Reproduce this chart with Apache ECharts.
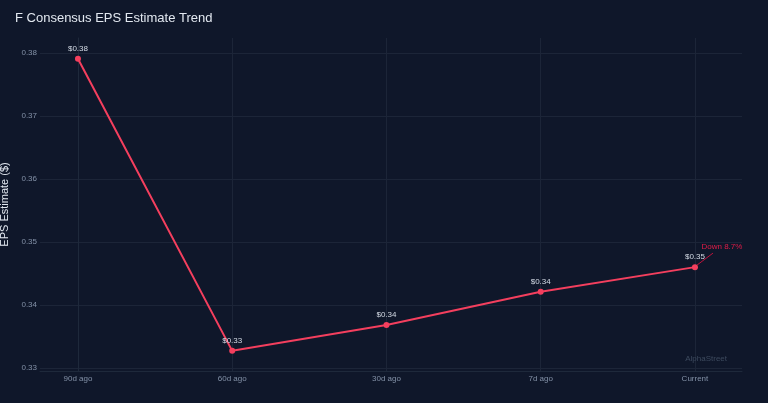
<!DOCTYPE html>
<html>
<head>
<meta charset="utf-8">
<script src="https://cdn.jsdelivr.net/npm/echarts@6/dist/echarts.min.js"></script>
<style>
html,body{margin:0;padding:0;background:#0f172a;}
#c{width:768px;height:403px;}
</style>
</head>
<body>
<div id="c"></div>
<script>
const categories = ['90d ago', '60d ago', '30d ago', '7d ago', 'Current'];
const epsValues = [0.3791, 0.3327, 0.3368, 0.3421, 0.3460];
const yTicks = [0.33, 0.34, 0.35, 0.36, 0.37, 0.38];
const titleText = 'F Consensus EPS Estimate Trend';
const watermark = 'AlphaStreet';

const xIdx = categories.map((c, i) => i);
const pct = (epsValues[epsValues.length - 1] - epsValues[0]) / epsValues[0] * 100;
const annText = (pct < 0 ? 'Down ' : 'Up ') + Math.abs(pct).toFixed(1) + '%';

const chart = echarts.init(document.getElementById('c'), null, {renderer: 'canvas'});
const font = 'Liberation Sans, Arial, sans-serif';
chart.setOption({
  backgroundColor: '#0f172a',
  animation: false,
  title: {
    text: titleText, left: 10, top: 7,
    textStyle: {color: '#e2e8f0', fontSize: 13, fontWeight: 'normal', fontFamily: font}
  },
  grid: {left: 40, right: 26, top: 38, bottom: 32, containLabel: false, outerBoundsMode: 'none'},
  xAxis: {
    type: 'value', min: -0.246, max: 4.305,
    axisLine: {show: true, onZero: false, lineStyle: {color: '#1e293b'}},
    axisTick: {show: false, customValues: xIdx},
    axisLabel: {
      customValues: xIdx, color: '#8391a7', fontSize: 8, fontFamily: font, margin: 4,
      formatter: v => categories[Math.round(v)] || ''
    },
    splitLine: {show: true, lineStyle: {color: '#1c2538', width: 1}}
  },
  yAxis: {
    type: 'value', min: 0.3295, max: 0.3824,
    name: 'EPS Estimate ($)', nameLocation: 'middle', nameGap: 25,
    nameTextStyle: {color: '#e2e8f0', fontSize: 11, fontFamily: font},
    axisLine: {show: true, lineStyle: {color: '#1e293b'}},
    axisTick: {show: false, customValues: yTicks},
    axisLabel: {
      customValues: yTicks, color: '#8391a7', fontSize: 8, fontFamily: font, margin: 3,
      formatter: v => v.toFixed(2)
    },
    splitLine: {show: true, lineStyle: {color: '#1c2538', width: 1}}
  },
  series: [{
    type: 'line',
    data: xIdx.map((x, i) => [x, epsValues[i]]),
    symbol: 'circle', symbolSize: 6,
    lineStyle: {color: '#f43f5e', width: 2},
    itemStyle: {color: '#f43f5e'},
    label: {
      show: true, position: 'top', distance: 3,
      color: '#d4dbe5', fontSize: 8, fontFamily: font,
      formatter: p => '$' + p.value[1].toFixed(2)
    }
  }]
});

// annotation near the last point, anchored via the library's scale
const last = chart.convertToPixel({seriesIndex: 0}, [xIdx[xIdx.length - 1], epsValues[epsValues.length - 1]]);
chart.setOption({
  graphic: [{
    type: 'text', right: 41, bottom: 40,
    style: {text: watermark, fill: '#3d4a5e', fontSize: 8, fontFamily: font}
  }, {
    type: 'line',
    shape: {x1: last[0] + 2, y1: last[1] - 2, x2: last[0] + 18, y2: last[1] - 14},
    style: {stroke: '#be123c', lineWidth: 1}
  }, {
    type: 'text', x: last[0] + 27, y: last[1] - 20,
    style: {text: annText, fill: '#e11d48', fontSize: 8, fontFamily: font, align: 'center', verticalAlign: 'middle'}
  }]
});
</script>
</body>
</html>
